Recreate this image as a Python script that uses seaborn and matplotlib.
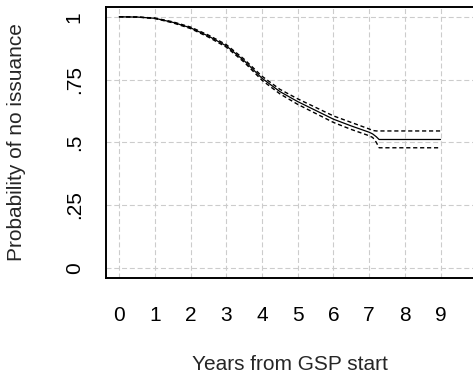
import matplotlib
matplotlib.use("Agg")
import matplotlib.pyplot as plt
import seaborn as sns
import pandas as pd

# Survival estimate of no issuance with 95% confidence band
years = [0, 0.5, 1, 1.5, 2, 2.5, 3, 3.5, 4, 4.5, 5, 5.5, 6, 6.5, 7, 7.1, 7.2, 7.28, 9]
surv = [1.0, 0.999, 0.994, 0.978, 0.956, 0.923, 0.884, 0.825, 0.755, 0.702, 0.662,
        0.627, 0.592, 0.565, 0.540, 0.533, 0.522, 0.511, 0.511]
upper = [1.0, 0.999, 0.995, 0.980, 0.959, 0.927, 0.889, 0.831, 0.763, 0.711, 0.673,
         0.639, 0.605, 0.579, 0.553, 0.547, 0.545, 0.545, 0.545]
lower = [1.0, 0.999, 0.993, 0.976, 0.953, 0.919, 0.879, 0.819, 0.747, 0.693, 0.651,
         0.615, 0.579, 0.551, 0.526, 0.519, 0.500, 0.478, 0.478]

xticks = list(range(10))
yticks = [0, 0.25, 0.5, 0.75, 1]
ytick_labels = ["0", ".25", ".5", ".75", "1"]

df = pd.DataFrame({"years": years, "surv": surv, "upper": upper, "lower": lower})

sns.set_style("white")
plt.rcParams["font.family"] = ["Liberation Sans", "DejaVu Sans"]

fig = plt.figure(figsize=(4.73, 3.75), dpi=100)
ax = fig.add_axes([106 / 473, 97 / 375, 367 / 473, 271 / 375])

grid_kw = dict(color="#cccccc", linewidth=0.8, linestyle=(0, (4.5, 2.5)), zorder=0)
for xv in xticks:
    ax.axvline(xv, **grid_kw)
for yv in yticks:
    ax.axhline(yv, **grid_kw)

sns.lineplot(data=df, x="years", y="upper", ax=ax, color="black", linewidth=1.0,
             linestyle=(0, (3, 2)), zorder=3)
sns.lineplot(data=df, x="years", y="lower", ax=ax, color="black", linewidth=1.0,
             linestyle=(0, (3, 2)), zorder=3)
sns.lineplot(data=df, x="years", y="surv", ax=ax, color="black", linewidth=0.9, zorder=4)

ax.set_xlim(-0.37, 9.91)
ax.set_ylim(-0.041, 1.039)
ax.set_xticks(xticks)
ax.set_xticklabels([str(v) for v in xticks])
ax.set_yticks(yticks)
ax.set_yticklabels(ytick_labels, rotation=90, va="center")

ax.tick_params(axis="both", direction="out", length=9, width=1.0, color="#333333",
               labelsize=15, labelcolor="black")
ax.tick_params(axis="x", pad=11)
ax.tick_params(axis="y", pad=7)

for side in ["left", "bottom", "top"]:
    ax.spines[side].set_color("black")
    ax.spines[side].set_linewidth(1.4)
ax.spines["right"].set_visible(False)

ax.set_xlabel("Years from GSP start", fontsize=15)
ax.set_ylabel("Probability of no issuance", fontsize=15)
ax.xaxis.set_label_coords(0.5, (278 - 365) / 271)
ax.xaxis.label.set_va("center")
ax.yaxis.set_label_coords((17 - 106) / 367, 0.5)
ax.yaxis.label.set_va("center")

fig.savefig("out.png", dpi=100, facecolor="white")
